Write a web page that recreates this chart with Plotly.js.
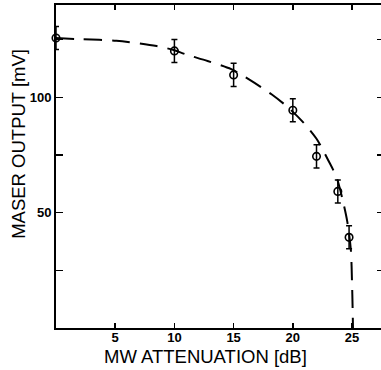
<!DOCTYPE html>
<html>
<head>
<meta charset="utf-8">
<script src="https://cdn.plot.ly/plotly-3.0.1.min.js"></script>
<style>
html, body { margin: 0; padding: 0; overflow: hidden; background: #fff; }
#chart { width: 400px; height: 370px; }
</style>
</head>
<body>
<div id="chart"></div>
<script>
// Measured data points (MW attenuation in dB, maser output in mV)
const attenuation = [0, 10, 15, 20, 22, 23.8, 24.75];
const maserOutput = [125.7, 120.1, 109.7, 94.4, 74.4, 59.2, 39.3];
const outputError = [5, 5, 5, 5, 5, 5, 5];

// Dashed guide curve
const curveX = [0, 2.0, 5.1, 8.5, 10.0, 10.9, 12.8, 14.8, 16.4, 18.2, 19.6, 20.9, 22.0, 23.0, 23.7, 24.2, 24.6, 24.9, 25.0, 25.05, 25.08];
const curveY = [125.7, 125.2, 124.5, 122.2, 120.4, 118.7, 115.7, 112.2, 107.4, 101.3, 95.6, 89.0, 82.0, 72.6, 65.2, 55.7, 46.1, 33.9, 19.6, 8.7, 0];

// Axis ticks
const xTickVals = [5, 10, 15, 20, 25];
const xTickText = ['5', '10', '15', '20', '25'];
const xLongTicks = [10, 20];
const yTickVals = [25, 50, 75, 100, 125];
const yTickText = ['', '50', '', '100', ''];
const yLongTicks = [50, 100];

const xTitle = 'MW ATTENUATION [dB]';
const yTitle = 'MASER OUTPUT [mV]';

const black = '#000';
const font = 'Liberation Sans, Arial, Helvetica, sans-serif';

const traces = [
  {
    x: curveX, y: curveY, mode: 'lines', type: 'scatter',
    line: { color: black, width: 2, dash: '18px,10px', shape: 'spline', smoothing: 0.8 },
    hoverinfo: 'skip', showlegend: false, cliponaxis: false
  },
  {
    x: attenuation, y: maserOutput, mode: 'markers', type: 'scatter',
    marker: { symbol: 'circle-open', size: 7.5, color: black, line: { color: black, width: 1.6 } },
    error_y: { type: 'data', array: outputError, visible: true, color: black, thickness: 1.5, width: 3 },
    showlegend: false, cliponaxis: false
  }
];

const xRange = [0, 27.7];
const yRange = [0, 140];

const layout = {
  width: 400, height: 370,
  margin: { l: 56, r: 16, t: 5, b: 42 },
  paper_bgcolor: '#fff', plot_bgcolor: '#fff',
  showlegend: false,
  font: { family: font, color: black },
  xaxis: {
    range: xRange, showgrid: false, zeroline: false,
    showline: true, linecolor: black, linewidth: 2, mirror: 'ticks',
    ticks: 'inside', ticklen: 5, tickwidth: 1.5, tickcolor: black,
    tickmode: 'array', tickvals: xTickVals, ticktext: xTickText,
    ticklabelstandoff: -4,
    tickfont: { family: font, size: 13, color: black, weight: 'bold' }
  },
  xaxis2: {
    range: xRange, overlaying: 'x', anchor: 'y', side: 'bottom',
    showgrid: false, zeroline: false, showline: false, mirror: 'ticks',
    ticks: 'inside', ticklen: 10, tickwidth: 1.5, tickcolor: black,
    tickmode: 'array', tickvals: xLongTicks, showticklabels: false
  },
  yaxis: {
    range: yRange, showgrid: false, zeroline: false,
    showline: true, linecolor: black, linewidth: 2, mirror: 'ticks',
    ticks: 'inside', ticklen: 7, tickwidth: 1.5, tickcolor: black,
    tickmode: 'array', tickvals: yTickVals, ticktext: yTickText,
    tickfont: { family: font, size: 13, color: black, weight: 'bold' }
  },
  yaxis2: {
    range: yRange, overlaying: 'y', anchor: 'x', side: 'left',
    showgrid: false, zeroline: false, showline: false, mirror: 'ticks',
    ticks: 'inside', ticklen: 11, tickwidth: 1.5, tickcolor: black,
    tickmode: 'array', tickvals: yLongTicks, showticklabels: false
  },
  annotations: [
    {
      text: xTitle, xref: 'paper', yref: 'paper', x: 0.4543, y: 0,
      xanchor: 'center', yanchor: 'middle', yshift: -28, showarrow: false,
      font: { family: font, size: 18.5, color: black }
    },
    {
      text: yTitle, xref: 'paper', yref: 'paper', x: -0.113, y: 0.57,
      xanchor: 'center', yanchor: 'middle', textangle: -90, showarrow: false,
      font: { family: font, size: 18.5, color: black }
    }
  ]
};

Plotly.newPlot('chart', traces, layout, { displayModeBar: false, staticPlot: true });
</script>
</body>
</html>
